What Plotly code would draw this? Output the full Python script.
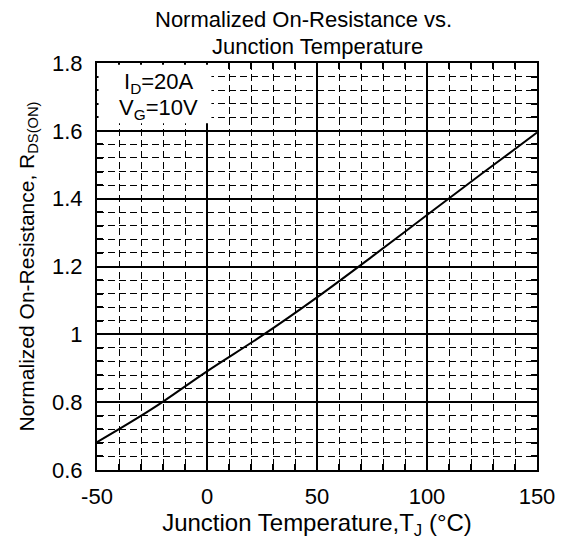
import plotly.graph_objects as go

temperature = [-50, -25, 0, 25, 50, 75, 100, 125, 150]
resistance = [0.682, 0.780, 0.891, 0.996, 1.109, 1.229, 1.352, 1.474, 1.595]

x_ticks = [-50, 0, 50, 100, 150]
x_tick_text = ["-50", "0", "50", "100", "150"]
y_ticks = [0.6, 0.8, 1.0, 1.2, 1.4, 1.6, 1.8]
y_tick_text = ["0.6", "0.8", "1", "1.2", "1.4", "1.6", "1.8"]

font_family = "Liberation Sans, Arial, sans-serif"

fig = go.Figure()
fig.add_trace(go.Scatter(x=temperature, y=resistance, mode="lines",
                         line=dict(color="black", width=2, shape="spline"),
                         showlegend=False, hoverinfo="skip"))

axis_common = dict(
    showline=True, linecolor="black", linewidth=2, mirror="ticks",
    ticks="inside", ticklen=6, tickwidth=1.5, tickcolor="black",
    showgrid=True, gridcolor="black", gridwidth=1.6, zeroline=False,
    tickfont=dict(family=font_family, size=22, color="black"),
)

fig.update_xaxes(range=[-50, 150], tickvals=x_ticks, ticktext=x_tick_text, **axis_common,
                 ticklabelstandoff=6,
                 minor=dict(dtick=10, ticks="inside", ticklen=6, tickcolor="black",
                            showgrid=True, gridcolor="black", gridwidth=1.4,
                            griddash="7px,4px"),
                 title=dict(text="Junction Temperature,T<sub>J</sub> (°C)",
                            font=dict(family=font_family, size=24, color="black"),
                            standoff=4))
fig.update_yaxes(range=[0.6, 1.8], tickvals=y_ticks, ticktext=y_tick_text, **axis_common,
                 ticklabelstandoff=8,
                 minor=dict(dtick=0.04, tick0=0.6, ticks="inside", ticklen=6, tickcolor="black",
                            showgrid=True, gridcolor="black", gridwidth=1.4,
                            griddash="7px,4px"),
                 title=dict(text="Normalized On-Resistance, R<sub>DS(ON)</sub>",
                            font=dict(family=font_family, size=21, color="black"),
                            standoff=12))

# white box behind the condition text
fig.add_shape(type="rect", xref="x", yref="y", x0=-49.3, x1=2, y0=1.622, y1=1.795,
              fillcolor="white", line=dict(width=0), layer="above")

fig.add_annotation(xref="x", yref="y", x=-22, y=1.74,
                   text="I<sub>D</sub>=20A", showarrow=False,
                   font=dict(family=font_family, size=22, color="black"))
fig.add_annotation(xref="x", yref="y", x=-22, y=1.665,
                   text="V<sub>G</sub>=10V", showarrow=False,
                   font=dict(family=font_family, size=22, color="black"))

title_lines = ["Normalized On-Resistance vs.", "Junction Temperature"]
title_x = [0.469, 0.50]
title_y = [1.108, 1.04]
for line_text, xpos, ypos in zip(title_lines, title_x, title_y):
    fig.add_annotation(xref="paper", yref="paper", x=xpos, y=ypos,
                       xanchor="center", yanchor="middle",
                       text=line_text, showarrow=False,
                       font=dict(family=font_family, size=22, color="black"))

fig.update_layout(
    width=567, height=551,
    margin=dict(l=97, r=24, t=63, b=81),
    paper_bgcolor="white", plot_bgcolor="white",
)

fig.write_html("out.html", config={"displayModeBar": False},
               post_script="document.body.style.margin='0';")
